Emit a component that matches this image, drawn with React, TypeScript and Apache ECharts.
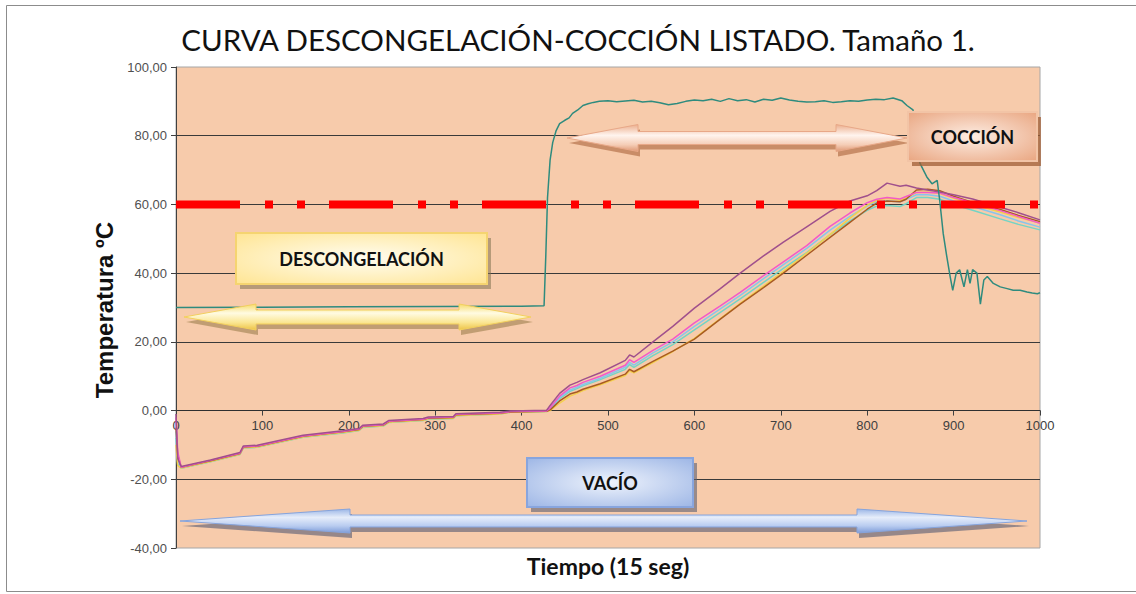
import React, { useEffect, useRef } from "react";
import * as echarts from "echarts";

// ---------- DATA ----------
const TIME = [0, 2, 6, 40, 74, 78, 94, 147, 193, 212, 216, 240, 246, 286, 292, 321, 324, 375, 387, 429, 433, 444, 456, 464, 471, 491, 520, 525, 530, 552, 575, 600, 630, 653, 680, 703, 730, 757, 780, 800, 811, 823, 838, 845, 857, 870, 884, 900, 922, 954, 975, 1000];

const PROBE_PURPLE = [-1, -14, -16.3, -14.4, -12.2, -10.3, -10.1, -7.2, -5.9, -5.2, -4.3, -3.9, -2.9, -2.3, -1.9, -1.7, -0.9, -0.5, -0.1, 0.1, 1.5, 5.0, 7.4, 8.2, 9.0, 11.0, 14.6, 16.2, 15.6, 20.0, 24.5, 29.8, 35.5, 40.0, 45.0, 49.0, 53.5, 58.0, 61.0, 62.5, 64.0, 66.2, 65.3, 65.6, 64.8, 64.2, 63.6, 62.8, 61.6, 59.2, 57.6, 55.5];
const PROBE_PINK = [-2, -12, -16.5, -14.5, -12.4, -10.5, -10.3, -7.4, -6.1, -5.4, -4.5, -4.1, -3.1, -2.5, -2.1, -1.9, -1.1, -0.7, -0.3, -0.1, 0.8, 4.2, 6.6, 7.3, 8.2, 10.0, 13.2, 14.8, 14.0, 17.5, 20.8, 25.5, 30.5, 34.4, 39.3, 43.3, 48.0, 53.6, 57.5, 60.5, 61.5, 62.0, 61.6, 62.3, 63.5, 63.5, 63.3, 62.0, 60.5, 58.2, 56.5, 54.5];
const PROBE_BLUE = [-6, -15, -16.6, -14.7, -12.6, -10.7, -10.5, -7.6, -6.3, -5.6, -4.7, -4.3, -3.3, -2.7, -2.3, -2.1, -1.3, -0.9, -0.4, -0.2, 0.6, 3.8, 6.0, 6.8, 7.6, 9.4, 12.6, 14.0, 13.2, 16.8, 20.0, 24.5, 29.6, 33.5, 38.4, 42.5, 47.2, 52.5, 56.5, 59.5, 60.8, 61.0, 60.8, 61.5, 62.8, 62.8, 62.4, 61.0, 59.4, 57.0, 55.2, 53.4];
const PROBE_CYAN = [-8, -15.5, -16.8, -14.9, -12.8, -10.9, -10.7, -7.8, -6.5, -5.8, -4.9, -4.5, -3.5, -2.9, -2.5, -2.3, -1.5, -1.0, -0.5, -0.3, 0.4, 3.5, 5.6, 6.4, 7.2, 9.0, 12.0, 13.4, 12.6, 16.0, 19.2, 23.5, 28.6, 32.5, 37.3, 41.4, 46.0, 51.2, 55.2, 58.3, 59.5, 59.7, 59.4, 60.2, 62.0, 62.0, 61.5, 60.0, 58.3, 55.8, 54.2, 52.6];
const PROBE_YELLOW = [-10, -16, -16.7, -14.8, -12.7, -10.8, -10.6, -7.7, -6.4, -5.7, -4.8, -4.4, -3.4, -2.8, -2.4, -2.2, -1.4, -1.0, -0.5, -0.3, 0.0, 2.2, 4.2, 5.0, 5.8, 7.5, 10.2, 11.5, 11.0, 14.0, 17.2, 21.0, 26.8, 31.2, 36.2, 40.5, 45.8, 51.2, 56.0, 59.8, 61.2, 61.8, 61.2, 61.8, 63.5, 63.6, 63.2, 61.8, 60.0, 57.8, 56.2, 54.6];
const PROBE_BROWN = [-5, -13, -16.5, -14.6, -12.5, -10.6, -10.4, -7.5, -6.2, -5.5, -4.6, -4.2, -3.2, -2.6, -2.2, -2.0, -1.2, -0.8, -0.4, -0.2, 0.2, 2.8, 4.8, 5.4, 6.2, 7.8, 10.6, 12.0, 11.3, 14.3, 17.3, 20.8, 26.6, 31.0, 35.8, 40.0, 45.2, 50.4, 54.8, 58.6, 60.4, 61.0, 60.8, 61.5, 64.2, 64.4, 64.0, 62.4, 60.6, 58.5, 56.8, 55.0];

const CHAMBER_TIME = [0, 100, 200, 300, 400, 426, 428, 430, 433, 436, 440, 444, 450, 455, 459, 465, 471, 477, 483, 490, 500, 510, 520, 530, 540, 550, 560, 570, 580, 590, 600, 610, 620, 630, 640, 650, 660, 670, 680, 690, 700, 710, 720, 730, 740, 750, 760, 770, 780, 790, 800, 810, 820, 830, 840, 846, 853, 861, 869, 875, 881, 884, 888, 892, 896, 899, 903, 907, 912, 916, 919, 922, 927, 931, 935, 939, 946, 954, 962, 969, 977, 985, 991, 997, 1000];
const CHAMBER_TEMP = [30.0, 30.1, 30.2, 30.3, 30.4, 30.5, 45, 62, 73, 78, 81.5, 83.5, 84.5, 85.2, 86.5, 87.5, 88.8, 89.3, 89.7, 90.0, 90.2, 89.9, 90.1, 90.3, 89.8, 90.0, 89.6, 89.0, 89.4, 90.0, 90.4, 90.2, 90.6, 90.0, 90.8, 90.2, 90.5, 89.8, 90.6, 90.3, 91.0, 90.4, 90.0, 89.8, 89.9, 90.2, 89.7, 89.9, 90.2, 90.0, 90.4, 90.6, 90.5, 91.0, 90.2, 88.8, 87.5, 72, 68, 66, 67, 61, 51.5, 45, 39, 35, 40, 41, 36, 41, 37, 41, 40, 31, 38, 39, 37, 36, 35.5, 35, 35, 34.5, 34.2, 34, 34.3];

const SETPOINT_TIME = [0, 1030];
const SETPOINT_TEMP = [60, 60];

const Y_MIN = -40;
const Y_MAX = 100;
const Y_STEP = 20;
const X_MIN = 0;
const X_MAX = 1000;
const X_STEP = 100;

const TITLE = "CURVA DESCONGELACIÓN-COCCIÓN LISTADO. Tamaño 1.";
const Y_TITLE = "Temperatura ºC";
const X_TITLE = "Tiempo (15 seg)";
const LABEL_DESC = "DESCONGELACIÓN";
const LABEL_COC = "COCCIÓN";
const LABEL_VAC = "VACÍO";

// ---------- layout ----------
const GRID_TOP = 67;
const GRID_BOTTOM = 46;
const GRID_H = 594 - GRID_TOP - GRID_BOTTOM;

// ---------- helpers ----------
function arrowPts(x1: number, x2: number, cy: number, hl: number, hh: number, sh: number) {
  return [
    [x1, cy], [x1 + hl, cy - hh], [x1 + hl, cy - sh], [x2 - hl, cy - sh], [x2 - hl, cy - hh],
    [x2, cy], [x2 - hl, cy + hh], [x2 - hl, cy + sh], [x1 + hl, cy + sh], [x1 + hl, cy + hh],
  ];
}
function lin(stops: [number, string][]) {
  return { type: "linear", x: 0, y: 0, x2: 0, y2: 1, colorStops: stops.map(([o, c]) => ({ offset: o, color: c })) };
}
function rad(inner: string, outer: string) {
  return { type: "radial", x: 0.5, y: 0.5, r: 0.75, colorStops: [{ offset: 0, color: inner }, { offset: 1, color: outer }] };
}
function arrow(x1: number, x2: number, cy: number, hl: number, hh: number, sh: number, fill: any, stroke: string, shadow: string) {
  return [
    { type: "polygon", z: 100, shape: { points: arrowPts(x1 + 2, x2 + 2, cy + 5, hl, hh, sh) }, style: { fill: shadow } },
    { type: "polygon", z: 101, shape: { points: arrowPts(x1, x2, cy, hl, hh, sh) }, style: { fill, stroke, lineWidth: 1 } },
  ];
}
function box(x: number, y: number, w: number, h: number, fill: any, stroke: string, shadow: string, text: string) {
  return [
    { type: "rect", z: 102, shape: { x: x + 4, y: y + 5, width: w, height: h }, style: { fill: shadow } },
    { type: "rect", z: 103, shape: { x, y, width: w, height: h }, style: { fill, stroke, lineWidth: 2 } },
    {
      type: "text", z: 104, x: x + w / 2, y: y + h / 2,
      style: { text, fill: "#111", font: "bold 18px Lato, 'Open Sans', sans-serif", align: "center", verticalAlign: "middle" },
    },
  ];
}

const pairs = (xs: number[], ys: number[]) => xs.map((x, i) => [x, ys[i]]);

export default function App() {
  const ref = useRef<HTMLDivElement>(null);
  useEffect(() => {
    if (!ref.current) return;
    const chart = echarts.init(ref.current, null, { renderer: "svg" });
    const probe = (name: string, ys: number[], color: string) => ({
      name, type: "line", data: pairs(TIME, ys), showSymbol: false, symbol: "none",
      lineStyle: { color, width: 1.5 }, itemStyle: { color }, z: 3,
    });
    // x axis sits on the y = 0 line (moved up from the bottom of the grid)
    const xAxisOffset = -((0 - Y_MIN) / (Y_MAX - Y_MIN)) * GRID_H;
    const graphics: any[] = [
      { type: "rect", z: 0, shape: { x: 6.5, y: 5.5, width: 1200, height: 586 }, style: { fill: "none", stroke: "#8c8c8c", lineWidth: 1 } },
      {
        type: "text", x: 578, y: 39, z: 10,
        style: { text: TITLE, fill: "#111", font: "29.5px Lato, 'Open Sans', sans-serif", align: "center", verticalAlign: "middle" },
      },
      {
        type: "text", x: 104, y: 310, rotation: Math.PI / 2, z: 10,
        style: { text: Y_TITLE, fill: "#111", font: "bold 24px 'Liberation Sans', Arial, sans-serif", align: "center", verticalAlign: "middle" },
      },
      {
        type: "text", x: 608, y: 566, z: 10,
        style: { text: X_TITLE, fill: "#111", font: "bold 23px Lato, 'Open Sans', sans-serif", align: "center", verticalAlign: "middle" },
      },
      ...arrow(184, 531, 317, 72, 13, 7,
        lin([[0, "#F6DA6A"], [0.35, "#FFFBE2"], [0.7, "#FBE795"], [1, "#EDC447"]]), "#F2CF5E", "rgba(150,120,70,0.55)"),
      ...arrow(567, 907, 138, 71, 13.5, 6.5,
        lin([[0, "#ECAE8C"], [0.4, "#FFF4EE"], [0.75, "#F5CDB6"], [1, "#DE9874"]]), "#E8A888", "rgba(170,100,60,0.6)"),
      ...arrow(180, 1027, 521, 170, 12, 6,
        lin([[0, "#9BB6E6"], [0.35, "#E6EDFA"], [0.7, "#B9CCF0"], [1, "#7E9CD8"]]), "#86A4DC", "rgba(85,90,115,0.6)"),
      ...box(236, 233, 251, 51, rad("#FFFDF2", "#FFE38C"), "#F5D470", "rgba(130,115,80,0.55)", LABEL_DESC),
      ...box(908, 112, 129, 49, rad("#FDEDE3", "#E8A17A"), "#F2C4A6", "rgba(160,95,55,0.75)", LABEL_COC),
      ...box(527, 458, 166, 49, rad("#EEF3FC", "#98B2E4"), "#88A5DE", "rgba(90,95,115,0.6)", LABEL_VAC),
    ];
    chart.setOption({
      animation: false,
      backgroundColor: "#ffffff",
      grid: {
        left: 176, top: GRID_TOP, right: 96, bottom: GRID_BOTTOM, containLabel: false,
        show: true, backgroundColor: "#F7CBAB", borderColor: "#A6A6A6", borderWidth: 1,
      },
      xAxis: {
        type: "value", min: X_MIN, max: X_MAX, interval: X_STEP, position: "bottom", offset: xAxisOffset,
        axisLine: { show: true, onZero: false, lineStyle: { color: "#303030", width: 1 } },
        axisTick: { show: true, length: 5, inside: false, lineStyle: { color: "#404040" } },
        axisLabel: {
          color: "#404040", fontSize: 13, fontFamily: "'Liberation Sans', Arial, sans-serif", margin: 8,
          formatter: (v: number) => String(v),
        },
        splitLine: { show: false },
      },
      yAxis: {
        type: "value", min: Y_MIN, max: Y_MAX, interval: Y_STEP,
        axisLine: { show: true, onZero: false, lineStyle: { color: "#404040", width: 1 } },
        axisTick: { show: true, length: 5, inside: false, lineStyle: { color: "#404040" } },
        axisLabel: {
          color: "#505050", fontSize: 13, fontFamily: "'Liberation Sans', Arial, sans-serif", margin: 9,
          formatter: (v: number) => v.toFixed(2).replace(".", ","),
        },
        splitLine: { show: true, showMinLine: false, showMaxLine: false, lineStyle: { color: "#3a3a3a", width: 1 } },
      },
      series: [
        probe("Sonda 1", PROBE_CYAN, "#74D4C4"),
        probe("Sonda 2", PROBE_BLUE, "#88C4EC"),
        probe("Sonda 3", PROBE_YELLOW, "#F4D04C"),
        probe("Sonda 4", PROBE_BROWN, "#A85A22"),
        probe("Sonda 5", PROBE_PINK, "#F25AC8"),
        probe("Sonda 6", PROBE_PURPLE, "#A0508C"),
        {
          name: "Cámara", type: "line", data: pairs(CHAMBER_TIME, CHAMBER_TEMP), showSymbol: false, symbol: "none",
          lineStyle: { color: "#2E8B7E", width: 1.5 }, z: 4,
        },
        {
          name: "Consigna", type: "line", data: pairs(SETPOINT_TIME, SETPOINT_TEMP), showSymbol: false, symbol: "none",
          clip: false, lineStyle: { color: "#FF0000", width: 8, type: [64, 25, 8, 24, 8, 24], cap: "butt" }, z: 5,
        },
      ],
      graphic: { elements: graphics },
    });
    return () => chart.dispose();
  }, []);
  return <div ref={ref} style={{ position: "fixed", left: 0, top: 0, width: 1136, height: 594, background: "#fff" }} />;
}
